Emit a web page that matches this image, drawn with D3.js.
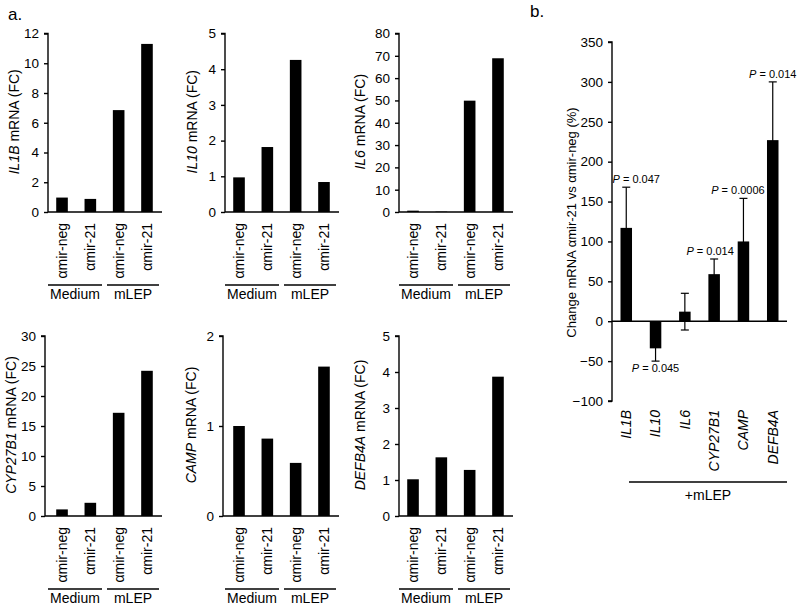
<!DOCTYPE html>
<html>
<head>
<meta charset="utf-8">
<script src="https://cdn.jsdelivr.net/npm/d3@7"></script>
<style>
  html, body { margin: 0; padding: 0; background: #fff; }
  svg text { font-family: "Liberation Sans", Arial, Helvetica, sans-serif; fill: #000; }
</style>
</head>
<body>
<svg id="chart" width="800" height="609"></svg>
<script>
// ---------------- DATA ----------------
const treatments = ["αmir-neg", "αmir-21", "αmir-neg", "αmir-21"];
const groups = ["Medium", "mLEP"];
const genes = ["IL1B", "IL10", "IL6", "CYP27B1", "CAMP", "DEFB4A"];

const fcIL1B    = [0.97, 0.88, 6.85, 11.3];
const fcIL10    = [0.97, 1.82, 4.26, 0.84];
const fcIL6     = [0.6, 0.15, 49.9, 68.9];
const fcCYP27B1 = [1.1, 2.2, 17.2, 24.2];
const fcCAMP    = [1.0, 0.86, 0.59, 1.66];
const fcDEFB4A  = [1.02, 1.63, 1.28, 3.87];

const ticksIL1B    = [0, 2, 4, 6, 8, 10, 12];
const ticksIL10    = [0, 1, 2, 3, 4, 5];
const ticksIL6     = [0, 10, 20, 30, 40, 50, 60, 70, 80];
const ticksCYP27B1 = [0, 5, 10, 15, 20, 25, 30];
const ticksCAMP    = [0, 1, 2];
const ticksDEFB4A  = [0, 1, 2, 3, 4, 5];

const changePct  = [117, -34, 12, 59, 100, 227];
const changeErr  = [51, 16, 23, 19, 54, 73];
const pValues    = ["0.047", "0.045", null, "0.014", "0.0006", "0.014"];
const changeTicks = [-100, -50, 0, 50, 100, 150, 200, 250, 300, 350];

// ---------------- LAYOUT ----------------
const svg = d3.select("#chart");
const FS = 14;
const TFS = 13.5;

const panelsA = [
  { gene: genes[0], values: fcIL1B,    ticks: ticksIL1B,    ax: 48,  bx: 48,  top: 33.5, base: 212, labOff: -34 },
  { gene: genes[1], values: fcIL10,    ticks: ticksIL10,    ax: 225, bx: 225, top: 33.5, base: 212, labOff: -33 },
  { gene: genes[2], values: fcIL6,     ticks: ticksIL6,     ax: 399, bx: 399, top: 33.5, base: 212, labOff: -39 },
  { gene: genes[3], values: fcCYP27B1, ticks: ticksCYP27B1, ax: 45,  bx: 48,  top: 336,  base: 516, labOff: -33.5 },
  { gene: genes[4], values: fcCAMP,    ticks: ticksCAMP,    ax: 223, bx: 225, top: 336,  base: 516, labOff: -32 },
  { gene: genes[5], values: fcDEFB4A,  ticks: ticksDEFB4A,  ax: 399, bx: 399, top: 336,  base: 516, labOff: -39 }
];

svg.append("text").attr("x", 8).attr("y", 20).style("font-size", "17px").text("a.");
svg.append("text").attr("x", 530).attr("y", 17).style("font-size", "17px").text("b.");

panelsA.forEach(p => {
  const g = svg.append("g");
  const W = 113;
  const x = d3.scaleBand().domain(d3.range(treatments.length))
    .range([p.bx, p.bx + W]).paddingInner(0.59).paddingOuter(0.29);
  const y = d3.scaleLinear().domain([0, d3.max(p.ticks)]).range([p.base, p.top]);

  g.selectAll("rect").data(p.values).join("rect")
    .attr("x", (d, i) => x(i))
    .attr("width", x.bandwidth())
    .attr("y", d => y(d))
    .attr("height", d => y(0) - y(d))
    .attr("fill", "#000");

  const yAxis = d3.axisLeft(y).tickValues(p.ticks).tickSize(4).tickPadding(5).tickFormat(d3.format("d"));
  const ag = g.append("g").attr("transform", `translate(${p.ax},0)`).call(yAxis);
  ag.select(".domain").attr("stroke", "#000").attr("stroke-width", 1.4).attr("d", `M-4,${p.top}H0V${p.base}`);
  ag.selectAll(".tick line").attr("stroke", "#000").attr("stroke-width", 1.4);
  ag.selectAll(".tick text").style("font-size", TFS + "px").style("font-family", "Liberation Sans, Arial, sans-serif");

  g.append("line").attr("x1", p.ax).attr("x2", p.bx + W + 1)
    .attr("y1", y(0)).attr("y2", y(0)).attr("stroke", "#000").attr("stroke-width", 1.4);

  treatments.forEach((t, i) => {
    g.append("text")
      .attr("transform", `translate(${x(i) + x.bandwidth() / 2},${p.base + 11}) rotate(-90)`)
      .attr("text-anchor", "end").attr("dy", "0.35em")
      .style("font-size", FS + "px").text(t);
  });

  const grpSpans = [[p.bx, p.bx + 54], [p.bx + 59, p.bx + 111]];
  groups.forEach((gr, i) => {
    const [a, b] = grpSpans[i];
    g.append("line").attr("x1", a).attr("x2", b)
      .attr("y1", p.base + 73).attr("y2", p.base + 73)
      .attr("stroke", "#000").attr("stroke-width", 1.3);
    g.append("text").attr("x", (a + b) / 2).attr("y", p.base + 87)
      .attr("text-anchor", "middle").style("font-size", FS + "px").text(gr);
  });

  const yl = g.append("text")
    .attr("transform", `translate(${p.ax + p.labOff},${(p.top + p.base) / 2 - 1}) rotate(-90)`)
    .attr("text-anchor", "middle").attr("dy", "0.35em").style("font-size", FS + "px");
  yl.append("tspan").style("font-style", "italic").text(p.gene);
  yl.append("tspan").text(" mRNA (FC)");
});

// ---------------- PANEL B ----------------
(function () {
  const ax = 612, top = 42, bottom = 401, right = 787;
  const g = svg.append("g");
  const x = d3.scaleBand().domain(genes).range([ax, right]).paddingInner(0.607).paddingOuter(0.29);
  const y = d3.scaleLinear().domain([d3.min(changeTicks), d3.max(changeTicks)]).range([bottom, top]);
  const capW = 8;

  genes.forEach((gn, i) => {
    const cx = x(gn) + x.bandwidth() / 2;
    const lo = changePct[i] - changeErr[i], hi = changePct[i] + changeErr[i];
    g.append("line").attr("x1", cx).attr("x2", cx).attr("y1", y(lo)).attr("y2", y(hi))
      .attr("stroke", "#000").attr("stroke-width", 1.2);
    [lo, hi].forEach(v => {
      g.append("line").attr("x1", cx - capW / 2).attr("x2", cx + capW / 2)
        .attr("y1", y(v)).attr("y2", y(v)).attr("stroke", "#000").attr("stroke-width", 1.2);
    });
  });

  g.selectAll("rect.bb").data(changePct).join("rect").attr("class", "bb")
    .attr("x", (d, i) => x(genes[i]))
    .attr("width", x.bandwidth())
    .attr("y", d => y(Math.max(0, d)))
    .attr("height", d => Math.abs(y(d) - y(0)))
    .attr("fill", "#000");

  const yAxis = d3.axisLeft(y).tickValues(changeTicks).tickSize(4).tickPadding(5);
  const ag = g.append("g").attr("transform", `translate(${ax},0)`).call(yAxis);
  ag.select(".domain").attr("stroke", "#000").attr("stroke-width", 1.4).attr("d", `M-4,${top}H0V${bottom}H-4`);
  ag.selectAll(".tick line").attr("stroke", "#000").attr("stroke-width", 1.4);
  ag.selectAll(".tick text").style("font-size", TFS + "px").style("font-family", "Liberation Sans, Arial, sans-serif");

  g.append("line").attr("x1", ax).attr("x2", right).attr("y1", y(0)).attr("y2", y(0))
    .attr("stroke", "#000").attr("stroke-width", 1.4);

  const pNudge = [10, 0, 0, -4, -5.5, 0];
  genes.forEach((gn, i) => {
    if (!pValues[i]) return;
    const cx = x(gn) + x.bandwidth() / 2 + pNudge[i];
    const v = changePct[i];
    const yy = v >= 0 ? y(v + changeErr[i]) - 4 : y(v - changeErr[i]) + 11;
    const t = g.append("text").attr("x", cx).attr("y", yy).attr("text-anchor", "middle").style("font-size", "11px");
    t.append("tspan").style("font-style", "italic").text("P");
    t.append("tspan").text(" = " + pValues[i]);
  });

  genes.forEach(gn => {
    g.append("text")
      .attr("transform", `translate(${x(gn) + x.bandwidth() / 2},410) rotate(-90)`)
      .attr("text-anchor", "end").attr("dy", "0.35em")
      .style("font-size", "14px").style("font-style", "italic").text(gn);
  });

  g.append("line").attr("x1", 629).attr("x2", right).attr("y1", 482).attr("y2", 482)
    .attr("stroke", "#000").attr("stroke-width", 1.3);
  g.append("text").attr("x", (629 + right) / 2).attr("y", 500).attr("text-anchor", "middle")
    .style("font-size", "14px").text("+mLEP");

  g.append("text")
    .attr("transform", `translate(${ax - 41},${(top + bottom) / 2 + 1}) rotate(-90)`)
    .attr("text-anchor", "middle").attr("dy", "0.35em")
    .style("font-size", "13px").text("Change mRNA αmir-21 vs αmir-neg (%)");
})();
</script>
</body>
</html>
